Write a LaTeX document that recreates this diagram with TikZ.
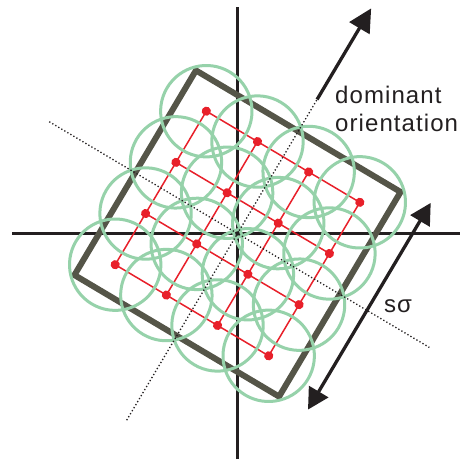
\documentclass[tikz,border=0pt]{standalone}
\usepackage{fontspec}
\setmainfont{Liberation Sans}
\newfontfamily\labfont[LetterSpace=4.5]{Liberation Sans}
\usetikzlibrary{arrows.meta}
\definecolor{boxgray}{RGB}{85,85,72}
\definecolor{ringgreen}{RGB}{150,210,170}
\definecolor{gridred}{RGB}{232,32,42}
\definecolor{inkblack}{RGB}{35,31,32}
\begin{document}
\begin{tikzpicture}[x=1pt,y=1pt,
  axisline/.style={draw=inkblack,line width=3.3pt},
  boxline/.style={draw=boxgray,line width=6pt,miter limit=10},
  gridline/.style={draw=gridred,line width=1.5pt},
  griddot/.style={fill=gridred},
  ring/.style={draw=ringgreen,line width=3pt},
  dotline/.style={draw=inkblack,line width=1.3pt,dash pattern=on 1.3pt off 2.2pt},
  bigarrow/.style={draw=inkblack,line width=3.3pt},
  labeltext/.style={text=inkblack,font=\labfont\fontsize{24}{28}\selectfont,inner sep=0pt}
]
\useasboundingbox (0,0) rectangle (460,459);
\fill[white] (0,0) rectangle (460,459);
% axes
\coordinate (hl) at (12,225.5);
\coordinate (hr) at (460,225.5);
\coordinate (vt) at (237.5,452);
\coordinate (vb) at (237.5,0);
\draw[axisline] (hl) -- (hr);
\draw[axisline] (vb) -- (vt);
\begin{scope}[shift={(237.5,225.5)},rotate=-30.7,x=59.5pt,y=59.5pt]
  % box
  \draw[boxline] (-2,-2) -- (2,-2) -- (2,2) -- (-2,2) -- cycle;
  % red grid
  \foreach \t in {-1.5,-0.5,0.5,1.5} {
    \draw[gridline] (\t,-1.5) -- (\t,1.5);
    \draw[gridline] (-1.5,\t) -- (1.5,\t);
  }
  \foreach \a in {-1.5,-0.5,0.5,1.5} {
    \foreach \b in {-1.5,-0.5,0.5,1.5} {
      \fill[griddot] (\a,\b) circle (4.6pt);
    }
  }
  % green rings
  \foreach \a in {-1.5,-0.5,0.5,1.5} {
    \foreach \b in {-1.5,-0.5,0.5,1.5} {
      \draw[ring] (\a,\b) circle (0.768);
    }
  }
  % dotted axes of the rotated frame
  \coordinate (ul) at (-3.68,0);
  \coordinate (ur) at (3.75,0);
  \coordinate (vlo) at (0,-3.65);
  \coordinate (vmid) at (0,2.62);
  \coordinate (vtip) at (0,4.40);
  \draw[dotline] (ul) -- (ur);
  \draw[dotline] (vlo) -- (vmid);
  \draw[bigarrow,-{Triangle[length=23pt,width=23pt]}] (vmid) -- (vtip);
  % s sigma arrow
  \coordinate (sb) at (2.53,-1.94);
  \coordinate (st) at (2.53,2.10);
  \draw[bigarrow,{Triangle[length=21pt,width=22pt]}-{Triangle[length=21pt,width=22pt]}] (sb) -- (st);
\end{scope}
\node[labeltext,anchor=base west,align=left] (dom) at (335,328) {dominant\\orientation};
\node[labeltext,anchor=base] (ssig) at (398,147) {sσ};
\end{tikzpicture}
\end{document}
